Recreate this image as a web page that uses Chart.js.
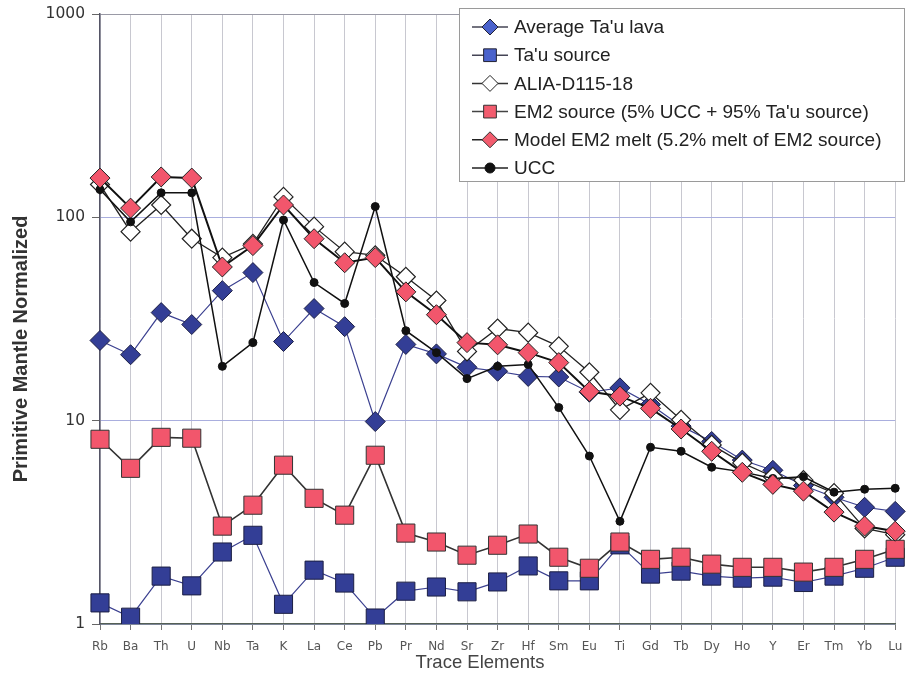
<!DOCTYPE html>
<html>
<head>
<meta charset="utf-8">
<script src="https://cdn.jsdelivr.net/npm/chart.js@4.4.1/dist/chart.umd.min.js"></script>
<style>
  html, body { margin: 0; padding: 0; background: #ffffff; }
  #wrap { width: 909px; height: 676px; }
</style>
</head>
<body>
<div id="wrap"><canvas id="c" width="909" height="676"></canvas></div>
<script>
const categories = ['Rb','Ba','Th','U','Nb','Ta','K','La','Ce','Pb','Pr','Nd','Sr','Zr','Hf','Sm','Eu','Ti','Gd','Tb','Dy','Ho','Y','Er','Tm','Yb','Lu'];
const yTickValues = [1, 10, 100, 1000];
const xTitle = 'Trace Elements';
const yTitle = 'Primitive Mantle Normalized';

const avgTauLava  = [24.8, 21.1, 34, 29.7, 43.6, 53.5, 24.5, 35.6, 29, 9.9, 23.7, 21.3, 18.3, 17.5, 16.5, 16.4, 13.8, 14.5, 12, 9.4, 7.9, 6.4, 5.7, 4.8, 4.2, 3.75, 3.58];
const tauSource   = [1.27, 1.08, 1.72, 1.54, 2.26, 2.73, 1.25, 1.84, 1.59, 1.07, 1.45, 1.52, 1.44, 1.61, 1.93, 1.63, 1.63, 2.45, 1.76, 1.82, 1.72, 1.68, 1.70, 1.60, 1.72, 1.88, 2.13];
const aliaD115    = [145, 85, 115, 78.5, 63.4, 74, 126, 90, 67.8, 65, 51, 39, 21.9, 28.4, 27.1, 23.2, 17.3, 11.3, 13.7, 10.1, 7.6, 6.2, 5.3, 5.1, 4.4, 2.95, 2.75];
const em2Source   = [8.1, 5.83, 8.28, 8.2, 3.03, 3.84, 6.04, 4.15, 3.43, 6.76, 2.80, 2.53, 2.18, 2.44, 2.77, 2.13, 1.88, 2.53, 2.08, 2.13, 1.97, 1.90, 1.90, 1.80, 1.90, 2.08, 2.33];
const em2Melt     = [156, 111, 158, 156, 57, 72.6, 115, 78.5, 59.8, 63.4, 43, 33.2, 24.2, 23.6, 21.6, 19.3, 13.9, 13.2, 11.5, 9.1, 7.07, 5.57, 4.86, 4.5, 3.55, 3.03, 2.86];
const ucc         = [137, 95, 132, 132, 18.5, 24.2, 97, 47.8, 37.7, 113, 27.7, 21.6, 16.1, 18.5, 18.9, 11.6, 6.7, 3.2, 7.4, 7.07, 5.9, 5.6, 5.2, 5.3, 4.45, 4.6, 4.65];

const seriesNames = [
  'Average Ta\'u lava',
  'Ta\'u source',
  'ALIA-D115-18',
  'EM2 source (5% UCC + 95% Ta\'u source)',
  'Model EM2 melt (5.2% melt of EM2 source)',
  'UCC'
];

const NAVY = '#333e96';
const NAVY_LINE = '#3b4090';
const PINK = '#f2566c';

const datasets = [
  { label: seriesNames[0], data: avgTauLava, order: 5,
    borderColor: NAVY_LINE, borderWidth: 1.2,
    pointStyle: 'rectRot', pointRadius: 10, pointBackgroundColor: NAVY, pointBorderColor: '#1c1f44', pointBorderWidth: 1,
    legendFill: '#4a62cc', legendStroke: '#223', legendLine: '#445', legendR: 8 },
  { label: seriesNames[1], data: tauSource, order: 4,
    borderColor: NAVY_LINE, borderWidth: 1.2,
    pointStyle: 'rect', pointRadius: 12.8, pointBackgroundColor: NAVY, pointBorderColor: '#1c1f44', pointBorderWidth: 1,
    legendFill: '#4a62cc', legendStroke: '#223', legendLine: '#445', legendR: 9 },
  { label: seriesNames[2], data: aliaD115, order: 3,
    borderColor: '#222222', borderWidth: 1.3,
    pointStyle: 'rectRot', pointRadius: 9.5, pointBackgroundColor: '#ffffff', pointBorderColor: '#222222', pointBorderWidth: 1.2,
    legendFill: '#ffffff', legendStroke: '#222', legendLine: '#333', legendR: 8 },
  { label: seriesNames[3], data: em2Source, order: 1,
    borderColor: '#333333', borderWidth: 1.6,
    pointStyle: 'rect', pointRadius: 12.8, pointBackgroundColor: PINK, pointBorderColor: '#333333', pointBorderWidth: 1,
    legendFill: '#f25c6e', legendStroke: '#333', legendLine: '#444', legendR: 9 },
  { label: seriesNames[4], data: em2Melt, order: 0,
    borderColor: '#111111', borderWidth: 2,
    pointStyle: 'rectRot', pointRadius: 10, pointBackgroundColor: PINK, pointBorderColor: '#222222', pointBorderWidth: 1,
    legendFill: '#f25c6e', legendStroke: '#333', legendLine: '#222', legendR: 8 },
  { label: seriesNames[5], data: ucc, order: 2,
    borderColor: '#111111', borderWidth: 1.5,
    pointStyle: 'circle', pointRadius: 4, pointBackgroundColor: '#111111', pointBorderColor: '#111111', pointBorderWidth: 1,
    legendFill: '#111', legendStroke: '#111', legendLine: '#222', legendR: 5 }
];
datasets.forEach(d => { d.tension = 0; d.fill = false; d.backgroundColor = d.pointBackgroundColor; });

function drawMarker(ctx, style, x, y, r, fill, stroke) {
  ctx.save();
  ctx.fillStyle = fill; ctx.strokeStyle = stroke; ctx.lineWidth = 1;
  ctx.beginPath();
  if (style === 'rectRot') {
    ctx.moveTo(x, y - r); ctx.lineTo(x + r, y); ctx.lineTo(x, y + r); ctx.lineTo(x - r, y); ctx.closePath();
  } else if (style === 'rect') {
    const s = r * Math.SQRT1_2;
    ctx.rect(x - s, y - s, 2 * s, 2 * s);
  } else {
    ctx.arc(x, y, r, 0, Math.PI * 2);
  }
  ctx.fill(); ctx.stroke();
  ctx.restore();
}

const boxLegend = {
  id: 'boxLegend',
  afterDraw(chart) {
    const ctx = chart.ctx;
    const bx = 459, by = 8, bw = 445, bh = 173;
    ctx.save();
    ctx.fillStyle = '#ffffff';
    ctx.fillRect(bx, by, bw, bh);
    ctx.strokeStyle = '#9a9a9a'; ctx.lineWidth = 1;
    ctx.strokeRect(bx + 0.5, by + 0.5, bw, bh);
    ctx.font = '19px "Liberation Sans", Arial, sans-serif';
    ctx.textBaseline = 'middle';
    ctx.textAlign = 'left';
    chart.data.datasets.forEach((d, i) => {
      const y = 27 + i * 28.2;
      ctx.strokeStyle = d.legendLine; ctx.lineWidth = 1.5;
      ctx.beginPath(); ctx.moveTo(472, y); ctx.lineTo(508, y); ctx.stroke();
      drawMarker(ctx, d.pointStyle, 490, y, d.legendR, d.legendFill, d.legendStroke);
      ctx.fillStyle = '#222222';
      ctx.fillText(d.label, 514, y + 1);
    });
    ctx.restore();
  }
};

const axisTitles = {
  id: 'axisTitles',
  afterDraw(chart) {
    const ctx = chart.ctx;
    ctx.save();
    ctx.textAlign = 'center';
    ctx.textBaseline = 'middle';
    ctx.fillStyle = '#444444';
    ctx.font = '18.5px "Liberation Sans", Arial, sans-serif';
    ctx.fillText(xTitle, 480, 663);
    ctx.translate(21, 349);
    ctx.rotate(-Math.PI / 2);
    ctx.fillStyle = '#333333';
    ctx.font = 'bold 20px "Liberation Sans", Arial, sans-serif';
    ctx.fillText(yTitle, 0, 0);
    ctx.restore();
  }
};

new Chart(document.getElementById('c'), {
  type: 'line',
  data: { labels: categories, datasets: datasets },
  options: {
    responsive: false,
    animation: false,
    layout: { padding: { top: 14, right: 12, left: 0, bottom: 0 } },
    plugins: { legend: { display: false }, tooltip: { enabled: false } },
    scales: {
      x: {
        offset: false,
        afterFit: s => { s.height = 52; s.paddingRight = 0; s.paddingLeft = 0; },
        grid: { color: '#c8c8d0', lineWidth: 1, tickLength: 6, tickColor: '#777777' },
        border: { color: '#556055', width: 1.5 },
        ticks: { autoSkip: false, maxRotation: 0, padding: 10, color: '#555555',
                 font: { family: '"DejaVu Sans", sans-serif', size: 12 } }
      },
      y: {
        type: 'logarithmic',
        min: 1, max: 1000,
        afterFit: s => { s.width = 100; s.paddingTop = 0; s.paddingBottom = 0; },
        afterBuildTicks: s => { s.ticks = yTickValues.map(v => ({ value: v })); },
        grid: { color: ctx => (ctx.tick && ctx.tick.value === 1000 ? '#9a9aa6' : '#a9aede'), lineWidth: 1, tickLength: 8, tickColor: '#666666' },
        border: { color: '#555566', width: 1.5 },
        ticks: { padding: 7, color: '#333333', callback: v => String(v),
                 font: { family: '"DejaVu Sans", sans-serif', size: 15.5 } }
      }
    }
  },
  plugins: [boxLegend, axisTitles]
});
</script>
</body>
</html>
